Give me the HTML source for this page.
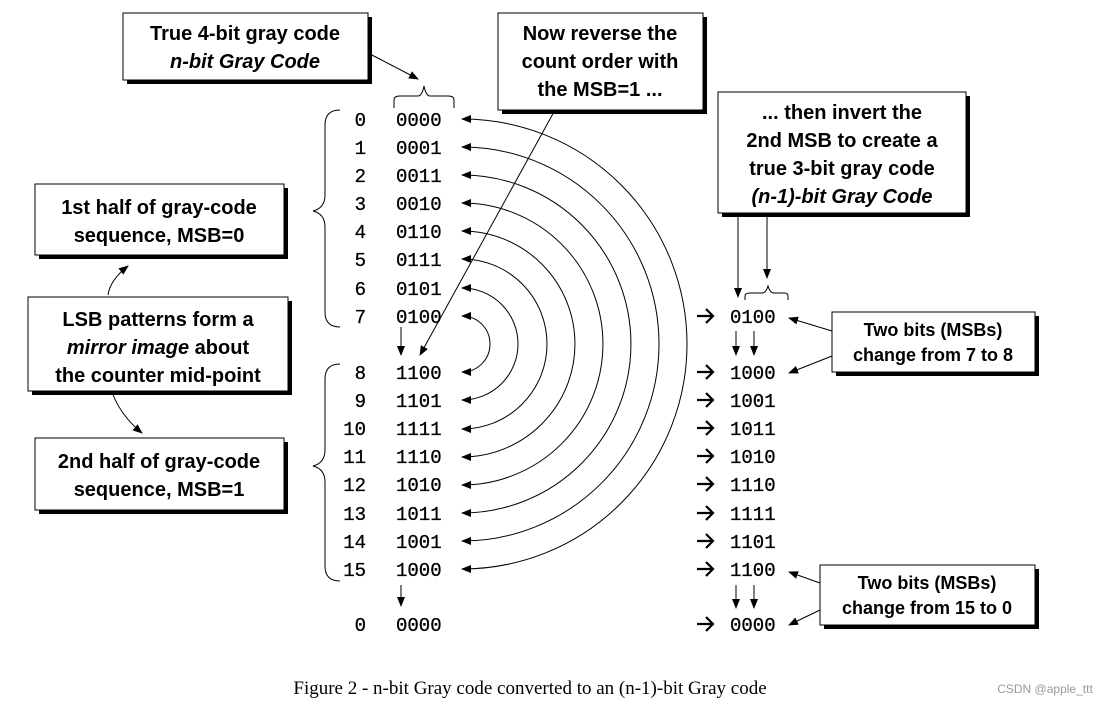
<!DOCTYPE html>
<html><head><meta charset="utf-8"><style>
body{margin:0;background:#fff;width:1118px;height:705px;overflow:hidden}
svg{display:block}
.b{font-family:"Liberation Sans",sans-serif;font-weight:bold;font-size:20px;fill:#000}
.m{font-family:"Liberation Mono",monospace;font-size:19px;fill:#000;stroke:#000;stroke-width:0.3}
</style></head><body>
<svg width="1118" height="705" viewBox="0 0 1118 705" xmlns="http://www.w3.org/2000/svg">
<defs>
<marker id="a" markerWidth="10" markerHeight="8" refX="9" refY="4" orient="auto-start-reverse" markerUnits="userSpaceOnUse"><path d="M0,0L10,4L0,8z" fill="#000"/></marker>
<g id="r"><path d="M0,0H16M9,-7L16,0L9,7" fill="none" stroke="#000" stroke-width="2.2"/></g>
</defs>
<g fill="#000">
<rect x="127" y="17" width="245" height="67"/><rect x="502" y="17" width="205" height="97"/>
<rect x="722" y="96" width="248" height="121"/><rect x="39" y="188" width="249" height="71"/>
<rect x="32" y="301" width="260" height="94"/><rect x="39" y="442" width="249" height="72"/>
<rect x="836" y="316" width="203" height="60"/><rect x="824" y="569" width="215" height="60"/>
</g>
<g fill="#fff" stroke="#000" stroke-width="1">
<rect x="123" y="13" width="245" height="67"/><rect x="498" y="13" width="205" height="97"/>
<rect x="718" y="92" width="248" height="121"/><rect x="35" y="184" width="249" height="71"/>
<rect x="28" y="297" width="260" height="94"/><rect x="35" y="438" width="249" height="72"/>
<rect x="832" y="312" width="203" height="60"/><rect x="820" y="565" width="215" height="60"/>
</g>
<g class="b" text-anchor="middle">
<text x="245" y="40">True 4-bit gray code</text><text x="245" y="68" font-style="italic">n-bit Gray Code</text>
<text x="600" y="40">Now reverse the</text><text x="600" y="68">count order with</text><text x="600" y="96">the MSB=1 ...</text>
<text x="842" y="119">... then invert the</text><text x="842" y="147">2nd MSB to create a</text><text x="842" y="175">true 3-bit gray code</text><text x="842" y="203" font-style="italic">(n-1)-bit Gray Code</text>
<text x="159" y="214">1st half of gray-code</text><text x="159" y="242">sequence, MSB=0</text>
<text x="158" y="326">LSB patterns form a</text><text x="158" y="354"><tspan font-style="italic">mirror image</tspan> about</text><text x="158" y="382">the counter mid-point</text>
<text x="159" y="468">2nd half of gray-code</text><text x="159" y="496">sequence, MSB=1</text>
<text x="933" y="336" font-size="18">Two bits (MSBs)</text><text x="933" y="361" font-size="18">change from 7 to 8</text>
<text x="927" y="589" font-size="18">Two bits (MSBs)</text><text x="927" y="614" font-size="18">change from 15 to 0</text>
</g>
<g class="m">
<g text-anchor="end">
<text x="366" y="126">0</text><text x="366" y="154">1</text><text x="366" y="182">2</text><text x="366" y="210">3</text><text x="366" y="238">4</text><text x="366" y="266">5</text><text x="366" y="295">6</text><text x="366" y="323">7</text>
<text x="366" y="379">8</text><text x="366" y="407">9</text><text x="366" y="435">10</text><text x="366" y="463">11</text><text x="366" y="491">12</text><text x="366" y="520">13</text><text x="366" y="548">14</text><text x="366" y="576">15</text><text x="366" y="631">0</text>
</g>
<text x="396" y="126">0000</text><text x="396" y="154">0001</text><text x="396" y="182">0011</text><text x="396" y="210">0010</text><text x="396" y="238">0110</text><text x="396" y="266">0111</text><text x="396" y="295">0101</text><text x="396" y="323">0100</text>
<text x="396" y="379">1100</text><text x="396" y="407">1101</text><text x="396" y="435">1111</text><text x="396" y="463">1110</text><text x="396" y="491">1010</text><text x="396" y="520">1011</text><text x="396" y="548">1001</text><text x="396" y="576">1000</text><text x="396" y="631">0000</text>
<text x="730" y="323">0100</text><text x="730" y="379">1000</text><text x="730" y="407">1001</text><text x="730" y="435">1011</text><text x="730" y="463">1010</text><text x="730" y="491">1110</text><text x="730" y="520">1111</text><text x="730" y="548">1101</text><text x="730" y="576">1100</text><text x="730" y="631">0000</text>
</g>
<use href="#r" x="697" y="316"/><use href="#r" x="697" y="372"/><use href="#r" x="697" y="400"/><use href="#r" x="697" y="428"/><use href="#r" x="697" y="456"/><use href="#r" x="697" y="484"/><use href="#r" x="697" y="513"/><use href="#r" x="697" y="541"/><use href="#r" x="697" y="569"/><use href="#r" x="697" y="624"/>
<g fill="none" stroke="#000" stroke-width="1">
<path d="M340,110 Q325,110 325,125 V195 Q325,208 313,211 Q325,214 325,227 V312 Q325,327 340,327"/>
<path d="M340,364 Q325,364 325,379 V450 Q325,463 313,466 Q325,469 325,482 V566 Q325,581 340,581"/>
<path d="M394,108 V100 Q394,96 400,96 H418 Q422,96 424,86 Q426,96 430,96 H448 Q454,96 454,100 V108"/>
<path d="M745,300 V296 Q745,293 750,293 H762 Q766,293 768,286 Q770,293 774,293 H784 Q788,293 788,296 V300"/>
</g>
<g fill="none" stroke="#000" stroke-width="1" marker-start="url(#a)" marker-end="url(#a)">
<path d="M462,119 A225,225 0 0 1 462,569"/>
<path d="M462,147 A197,197 0 0 1 462,541"/>
<path d="M462,175 A169,169 0 0 1 462,513"/>
<path d="M462,203 A141,141 0 0 1 462,485"/>
<path d="M462,231 A113,113 0 0 1 462,457"/>
<path d="M462,259 A85,85 0 0 1 462,429"/>
<path d="M462,288 A56,56 0 0 1 462,400"/>
<path d="M462,316 A28,28 0 0 1 462,372"/>
</g>
<g fill="none" stroke="#000" stroke-width="1" marker-end="url(#a)">
<path d="M370,54 L418,79"/>
<path d="M555,110 L420,355"/>
<path d="M401,327 V355"/><path d="M401,585 V606"/>
<path d="M738,213 V297"/><path d="M767,213 V278"/>
<path d="M736,331 V355"/><path d="M754,331 V355"/>
<path d="M736,585 V608"/><path d="M754,585 V608"/>
<path d="M832,331 L789,318"/><path d="M832,356 L789,373"/>
<path d="M820,583 L789,572"/><path d="M820,610 L789,625"/>
<path d="M108,295 Q110,280 128,266"/>
<path d="M112,392 Q120,415 142,433"/>
</g>
<text x="530" y="694" text-anchor="middle" font-family="Liberation Serif,serif" font-size="19" fill="#000">Figure 2 - n-bit Gray code converted to an (n-1)-bit Gray code</text>
<text x="1045" y="693" text-anchor="middle" font-family="Liberation Sans,sans-serif" font-size="12" fill="#999">CSDN @apple_ttt</text>
</svg>
</body></html>
